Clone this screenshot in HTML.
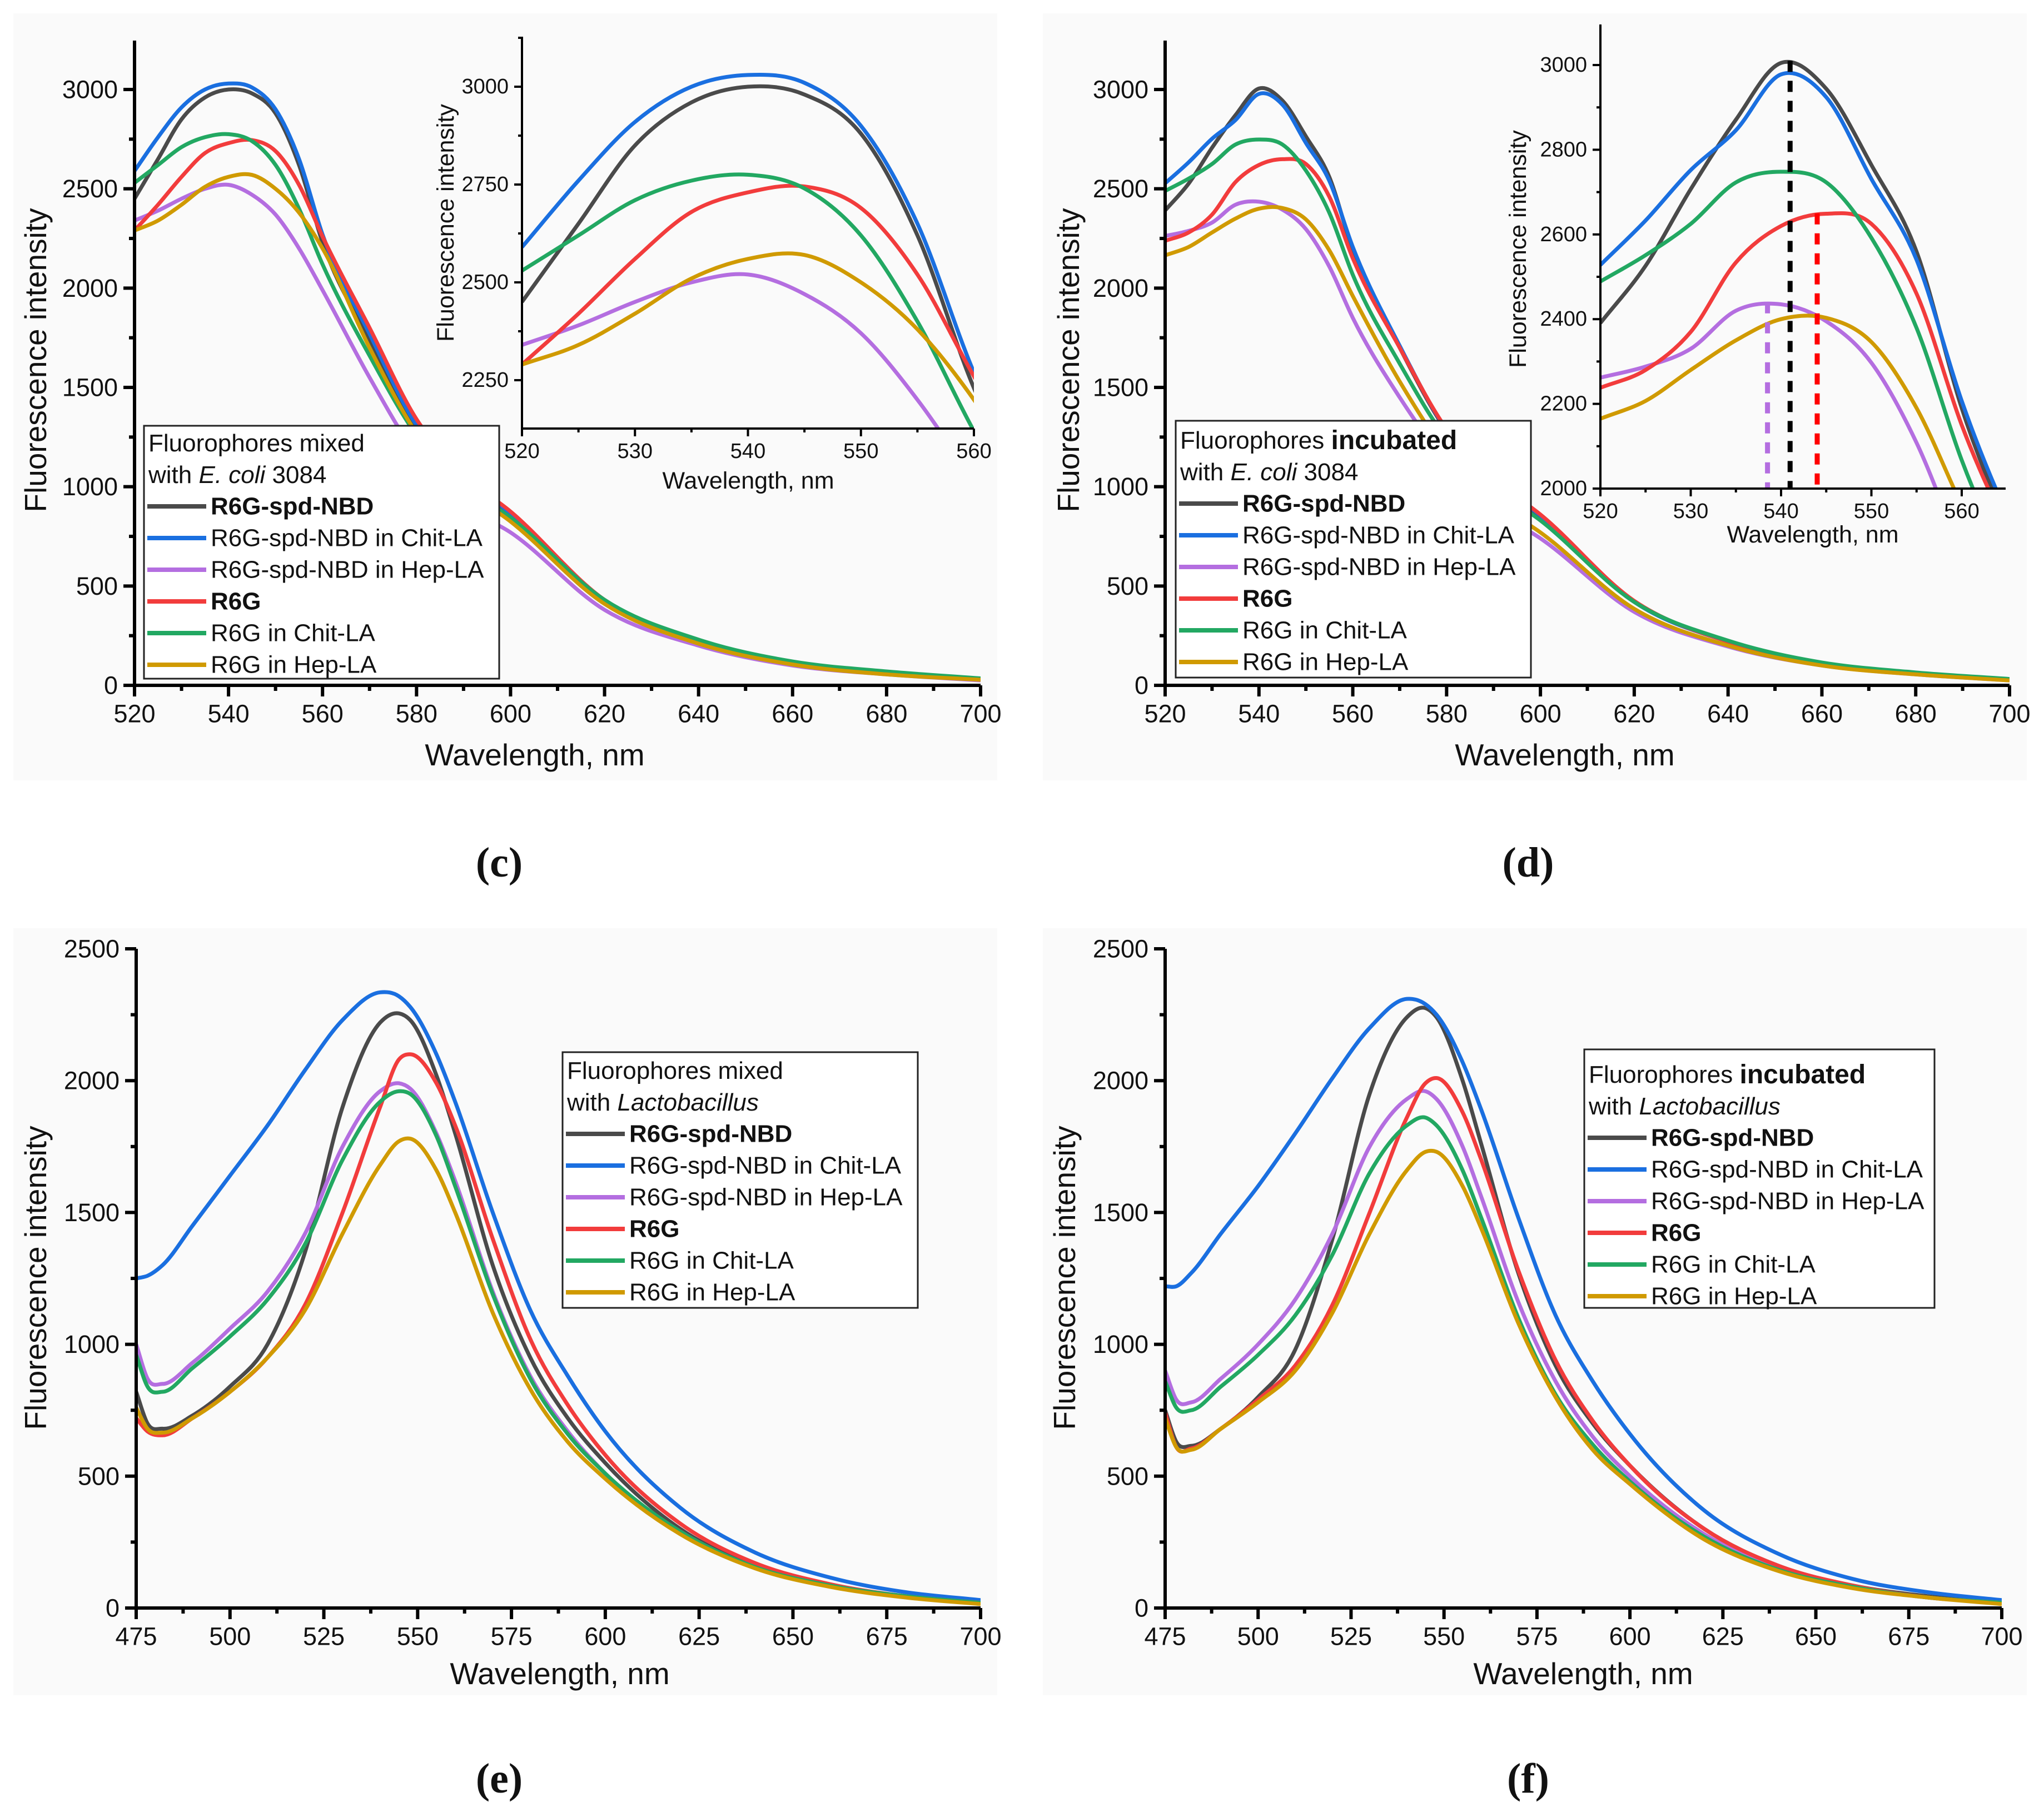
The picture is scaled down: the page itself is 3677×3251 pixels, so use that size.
<!DOCTYPE html>
<html><head><meta charset="utf-8">
<style>
html,body{margin:0;padding:0;background:#fff;}
svg{display:block;font-family:"Liberation Sans",sans-serif;}
</style></head>
<body>
<svg id="fig" width="3677" height="3251" viewBox="0 0 3677 3251" xmlns="http://www.w3.org/2000/svg"></svg>
<script>
// ---------- DATA ----------
const seriesNames = ["R6G-spd-NBD","R6G-spd-NBD in Chit-LA","R6G-spd-NBD in Hep-LA","R6G","R6G in Chit-LA","R6G in Hep-LA"];
const seriesColors = ["#4a4a4a","#1a6fe0","#b46ee0","#f23c3c","#22a862","#d09a00"];
const seriesBold = [true,false,false,true,false,false];

// Panel (c)
const wlC = [520,525,530,535,540,545,550,555,560,570,580,590,600,620,640,660,680,700];
const cBlack  = [2450,2650,2850,2960,3000,2980,2880,2620,2230,1740,1300,1050,860,420,220,110,60,30];
const cBlue   = [2590,2760,2910,3000,3030,3010,2900,2650,2270,1770,1310,1060,865,425,222,112,60,30];
const cPurple = [2340,2390,2450,2500,2520,2470,2370,2200,1990,1550,1160,910,770,380,200,100,55,25];
const cRed    = [2290,2420,2560,2680,2730,2745,2690,2520,2260,1800,1340,1060,875,430,220,110,60,30];
const cGreen  = [2530,2620,2710,2760,2775,2740,2620,2400,2120,1660,1260,1010,845,430,230,120,70,35];
const cGold   = [2290,2340,2420,2510,2560,2570,2500,2380,2200,1700,1270,1000,825,410,210,105,55,28];

// Panel (d)
const wlD = [520,525,530,535,540,545,550,555,560,570,580,590,600,620,640,660,680,700];
const dBlack  = [2391,2526,2707,2871,3005,2944,2764,2559,2190,1700,1280,1030,850,420,220,110,60,30];
const dBlue   = [2528,2633,2752,2846,2978,2924,2731,2540,2207,1710,1285,1035,855,420,220,110,60,30];
const dPurple = [2262,2288,2330,2420,2435,2395,2297,2108,1850,1450,1120,890,740,370,195,100,55,25];
const dRed    = [2238,2280,2370,2534,2620,2649,2625,2460,2150,1700,1290,1040,860,425,220,110,60,30];
const dGreen  = [2489,2551,2625,2723,2748,2723,2592,2379,2067,1620,1240,1000,830,420,225,115,65,32];
const dGold   = [2165,2207,2280,2350,2400,2403,2346,2190,1960,1530,1170,930,770,385,200,100,55,25];
const dPeakWl = [538.5,541,544];
const dPeakVal = [2440,3010,2650];
const dPeakColors = ["#b46ee0","#000000","#ff0000"];

// Panel (e)
const wlE = [475,478,482,490,500,510,520,530,540,545,548,555,560,570,580,590,600,620,640,660,680,700];
const eBlue   = [1250,1260,1300,1450,1640,1830,2040,2230,2335,2320,2280,2100,1920,1500,1130,880,670,380,210,115,60,30];
const eBlack  = [820,700,680,730,840,1000,1350,1900,2220,2255,2230,2020,1800,1300,950,720,550,300,160,85,45,20];
const eRed    = [720,670,655,720,820,950,1150,1500,1900,2080,2100,1990,1830,1400,1020,770,580,320,170,90,45,20];
const ePurple = [1000,870,850,930,1060,1200,1420,1750,1960,1990,1970,1800,1620,1200,880,670,510,290,155,85,45,20];
const eGreen  = [960,840,820,910,1030,1170,1380,1700,1920,1960,1950,1790,1600,1190,870,660,510,290,155,85,45,20];
const eGold   = [760,680,665,720,820,950,1130,1420,1680,1770,1780,1660,1500,1120,830,630,490,280,150,80,40,15];

// Panel (f)
const wlF = [475,478,482,490,500,510,520,530,540,545,548,555,560,570,580,590,600,620,640,660,680,700];
const fBlue   = [1220,1220,1270,1420,1600,1800,2010,2200,2310,2290,2250,2070,1890,1480,1110,860,660,370,205,110,60,30];
const fBlack  = [750,630,615,680,800,980,1400,1950,2240,2275,2240,2000,1760,1270,920,700,540,300,160,85,45,20];
const fRed    = [740,610,605,680,790,920,1150,1500,1860,1990,2010,1880,1700,1280,940,710,540,300,160,85,40,20];
const fPurple = [900,790,780,870,1000,1170,1420,1750,1930,1960,1930,1750,1560,1160,860,650,500,280,150,80,40,20];
const fGreen  = [860,760,750,840,960,1110,1340,1650,1830,1860,1830,1660,1480,1100,810,620,480,270,145,80,40,20];
const fGold   = [720,610,600,680,780,900,1120,1420,1660,1730,1730,1600,1440,1080,800,600,470,260,140,75,40,15];

const ticksMainC = [0,500,1000,1500,2000,2500,3000];
const ticksXC = [520,540,560,580,600,620,640,660,680,700];
const ticksInsetCY = [2250,2500,2750,3000];
const ticksInsetCX = [520,530,540,550,560];
const ticksInsetDY = [2000,2200,2400,2600,2800,3000];
const ticksInsetDX = [520,530,540,550,560];
const ticksMainE = [0,500,1000,1500,2000,2500];
const ticksXE = [475,500,525,550,575,600,625,650,675,700];

// ---------- DRAWING ----------
const NS = "http://www.w3.org/2000/svg";
const svg = document.getElementById("fig");
function mk(tag, attrs, parent, text){
  const e = document.createElementNS(NS, tag);
  for (const k in attrs) e.setAttribute(k, attrs[k]);
  if (text !== undefined) e.textContent = text;
  (parent || svg).appendChild(e);
  return e;
}
function lin(d0,d1,r0,r1){ return v => r0 + (v-d0)*(r1-r0)/(d1-d0); }
// Hermite spline with finite-difference tangents (handles uneven spacing)
function smoothPath(xs, ys){
  const n = xs.length, m = new Array(n);
  m[0] = (ys[1]-ys[0])/(xs[1]-xs[0]);
  m[n-1] = (ys[n-1]-ys[n-2])/(xs[n-1]-xs[n-2]);
  for (let i=1;i<n-1;i++){
    const h0=xs[i]-xs[i-1], h1=xs[i+1]-xs[i];
    const d0=(ys[i]-ys[i-1])/h0, d1=(ys[i+1]-ys[i])/h1;
    m[i] = (d0*h1 + d1*h0)/(h0+h1);
  }
  let p = "M"+xs[0].toFixed(1)+","+ys[0].toFixed(1);
  for (let i=0;i<n-1;i++){
    const h = xs[i+1]-xs[i];
    p += " C"+(xs[i]+h/3).toFixed(1)+","+(ys[i]+m[i]*h/3).toFixed(1)+" "+(xs[i+1]-h/3).toFixed(1)+","+(ys[i+1]-m[i+1]*h/3).toFixed(1)+" "+xs[i+1].toFixed(1)+","+ys[i+1].toFixed(1);
  }
  return p;
}
let clipId = 0;
function chart(cfg){
  const g = mk("g", {});
  
  
  const X = lin(cfg.xd[0], cfg.xd[1], cfg.xr[0], cfg.xr[1]);
  const Y = lin(cfg.yd[0], cfg.yd[1], cfg.yr[0], cfg.yr[1]);
  const left = cfg.xr[0], bottom = cfg.axBottom, top = cfg.axTop, right = cfg.axRight;
  const cid = "clip"+(clipId++);
  const cp = mk("clipPath", {id:cid}, g);
  mk("rect", {x:left, y:top, width:right-left, height:bottom-top}, cp);
  const lines = mk("g", {"clip-path":"url(#"+cid+")"}, g);
  
  
  cfg.series.forEach((vals, i) => {
    const p = mk("path", {d: smoothPath(cfg.wl.map(X), vals.map(Y)), fill:"none", stroke:seriesColors[i], "stroke-width":cfg.lw, "stroke-linejoin":"round"}, lines);
    
    
  });
  if (cfg.peaks){
    cfg.peaks.wl.forEach((w, i) => {
      const p = mk("line", {x1:X(w), x2:X(w), y1:Y(cfg.peaks.val[i]), y2:bottom, stroke:cfg.peaks.colors[i], "stroke-width":9, "stroke-dasharray":"20 16"}, lines);
      
      
    });
  }
  const ax = mk("g", {stroke:"#000", "stroke-width":cfg.aw}, g);
  
  
  mk("line", {x1:left, y1:top, x2:left, y2:bottom+cfg.aw/2}, ax);
  mk("line", {x1:left-cfg.aw/2, y1:bottom, x2:right, y2:bottom}, ax);
  const ys = cfg.yTicks, xs = cfg.xTicks;
  const yStep = ys[1]-ys[0], xStep = xs[1]-xs[0];
  for (let v = ys[0]; ; v += yStep/2){
    const y = Y(v); if (y < top-1) break;
    const major = Math.abs(((v-ys[0])/yStep) - Math.round((v-ys[0])/yStep)) < 1e-6;
    mk("line", {x1:left-(major?cfg.tl:cfg.tl/2), x2:left, y1:y, y2:y}, ax);
  }
  for (let v = xs[0]; ; v += xStep/2){
    const x = X(v); if (x > right+1) break;
    const major = Math.abs(((v-xs[0])/xStep) - Math.round((v-xs[0])/xStep)) < 1e-6;
    mk("line", {x1:x, x2:x, y1:bottom, y2:bottom+(major?cfg.tl:cfg.tl/2)}, ax);
  }
  const tg = mk("g", {"font-size":cfg.fs, fill:"#111"}, g);
  ys.forEach(v => {
    const t = mk("text", {x:left-cfg.tl-10, y:Y(v), "text-anchor":"end", "dominant-baseline":"central"}, tg, String(v));
    
    
  });
  xs.forEach(v => {
    const t = mk("text", {x:X(v), y:bottom+cfg.tl+cfg.fs*0.55+6, "text-anchor":"middle", "dominant-baseline":"central"}, tg, String(v));
    
    
  });
  const xt = mk("text", {x:cfg.xTitle[0], y:cfg.xTitle[1], "text-anchor":"middle", "dominant-baseline":"central", "font-size":cfg.tfs, fill:"#111"}, g, "Wavelength, nm");
  
  
  const yt = mk("text", {x:0, y:0, transform:"translate("+cfg.yTitle[0]+","+cfg.yTitle[1]+") rotate(-90)", "text-anchor":"middle", "dominant-baseline":"central", "font-size":cfg.tfs, fill:"#111"}, g, "Fluorescence intensity");
  
  
}
function legend(cfg){
  const g = mk("g", {});
  
  
  mk("rect", {x:cfg.x, y:cfg.y, width:cfg.w, height:cfg.h, fill:"#fff", stroke:"#222", "stroke-width":3}, g);
  const fs = 44;
  const h1 = mk("text", {x:cfg.x+8, y:cfg.rows[0], "font-size":fs, "dominant-baseline":"central", fill:"#111"}, g);
  
  
  mk("tspan", {}, h1, "Fluorophores ");
  mk("tspan", cfg.bold ? {"font-weight":"bold","font-size":48} : {}, h1, cfg.verb);
  const h2 = mk("text", {x:cfg.x+8, y:cfg.rows[1], "font-size":fs, "dominant-baseline":"central", fill:"#111"}, g);
  
  
  mk("tspan", {}, h2, "with ");
  mk("tspan", {"font-style":"italic"}, h2, cfg.org);
  if (cfg.num) mk("tspan", {}, h2, " " + cfg.num);
  seriesNames.forEach((n, i) => {
    const y = cfg.rows[0] + (cfg.rows[1]-cfg.rows[0])*(i+2);
    const l = mk("line", {x1:cfg.x+6, x2:cfg.x+112, y1:y, y2:y, stroke:seriesColors[i], "stroke-width":8}, g);
    
    
    const t = mk("text", {x:cfg.x+120, y:y, "font-size":fs, "dominant-baseline":"central", fill:"#111", "font-weight":seriesBold[i]?"bold":"normal"}, g, n);
    
    
  });
}
function caption(x,y,s){
  const t = mk("text", {x:x, y:y, "text-anchor":"middle", "dominant-baseline":"central", "font-size":76, "font-weight":"bold", "font-family":"Liberation Serif, serif", fill:"#111"}, svg, s);
  
  
}

[[24,24,1770,1380],[1876,24,1770,1380],[24,1670,1770,1380],[1876,1670,1770,1380]].forEach(r=>{
  const b = mk("rect",{x:r[0],y:r[1],width:r[2],height:r[3],fill:"#fafafa"});
  
  
});

chart({name:"chart-c", wl:wlC, series:[cBlack,cBlue,cPurple,cRed,cGreen,cGold],
  xd:[520,700], xr:[242,1764], yd:[0,3000], yr:[1233,161], axTop:73, axBottom:1233, axRight:1764,
  yTicks:ticksMainC, xTicks:ticksXC, lw:7, aw:6, tl:20, fs:45, tfs:55, xTitle:[962,1358], yTitle:[64,648]});
legend({x:259,y:766,w:639,h:455,rows:[797,854],verb:"mixed",bold:false,org:"E. coli",num:"3084"});
const insC = mk("rect",{x:939,y:60,width:830,height:720,fill:"#fafafa"});
 
chart({name:"inset-c", wl:wlC, series:[cBlack,cBlue,cPurple,cRed,cGreen,cGold],
  xd:[520,560], xr:[939,1752], yd:[2250,3000], yr:[684,156], axTop:66, axBottom:771, axRight:1752,
  yTicks:ticksInsetCY, xTicks:ticksInsetCX, lw:7, aw:4, tl:14, fs:38, tfs:43, xTitle:[1346,865], yTitle:[802,401]});

chart({name:"chart-d", wl:wlD, series:[dBlack,dBlue,dPurple,dRed,dGreen,dGold],
  xd:[520,700], xr:[2096,3615], yd:[0,3000], yr:[1233,161], axTop:73, axBottom:1233, axRight:3615,
  yTicks:ticksMainC, xTicks:ticksXC, lw:7, aw:6, tl:20, fs:45, tfs:55, xTitle:[2815,1358], yTitle:[1922,648]});
legend({x:2115,y:757,w:639,h:462,rows:[792,849],verb:"incubated",bold:true,org:"E. coli",num:"3084"});
const insD = mk("rect",{x:2879,y:36,width:740,height:848,fill:"#fafafa"});
 
chart({name:"inset-d", wl:wlD, series:[dBlack,dBlue,dPurple,dRed,dGreen,dGold],
  peaks:{wl:dPeakWl, val:dPeakVal, colors:dPeakColors},
  xd:[520,560], xr:[2879,3529], yd:[2000,3000], yr:[879,117], axTop:44, axBottom:879, axRight:3608,
  yTicks:ticksInsetDY, xTicks:ticksInsetDX, lw:7, aw:4, tl:14, fs:38, tfs:43, xTitle:[3261,962], yTitle:[2731,448]});

chart({name:"chart-e", wl:wlE, series:[eBlack,eBlue,ePurple,eRed,eGreen,eGold],
  xd:[475,700], xr:[245,1764], yd:[0,2500], yr:[2893,1707], axTop:1707, axBottom:2893, axRight:1764,
  yTicks:ticksMainE, xTicks:ticksXE, lw:7, aw:6, tl:20, fs:45, tfs:55, xTitle:[1007,3011], yTitle:[64,2299]});
legend({x:1012,y:1893,w:639,h:460,rows:[1926,1983],verb:"mixed",bold:false,org:"Lactobacillus",num:""});

chart({name:"chart-f", wl:wlF, series:[fBlack,fBlue,fPurple,fRed,fGreen,fGold],
  xd:[475,700], xr:[2096,3601], yd:[0,2500], yr:[2893,1707], axTop:1707, axBottom:2893, axRight:3601,
  yTicks:ticksMainE, xTicks:ticksXE, lw:7, aw:6, tl:20, fs:45, tfs:55, xTitle:[2848,3011], yTitle:[1915,2299]});
legend({x:2850,y:1888,w:630,h:465,rows:[1933,1990],verb:"incubated",bold:true,org:"Lactobacillus",num:""});

caption(898,1552,"(c)");
caption(2749,1552,"(d)");
caption(898,3200,"(e)");
caption(2749,3200,"(f)");
</script>
</body></html>
